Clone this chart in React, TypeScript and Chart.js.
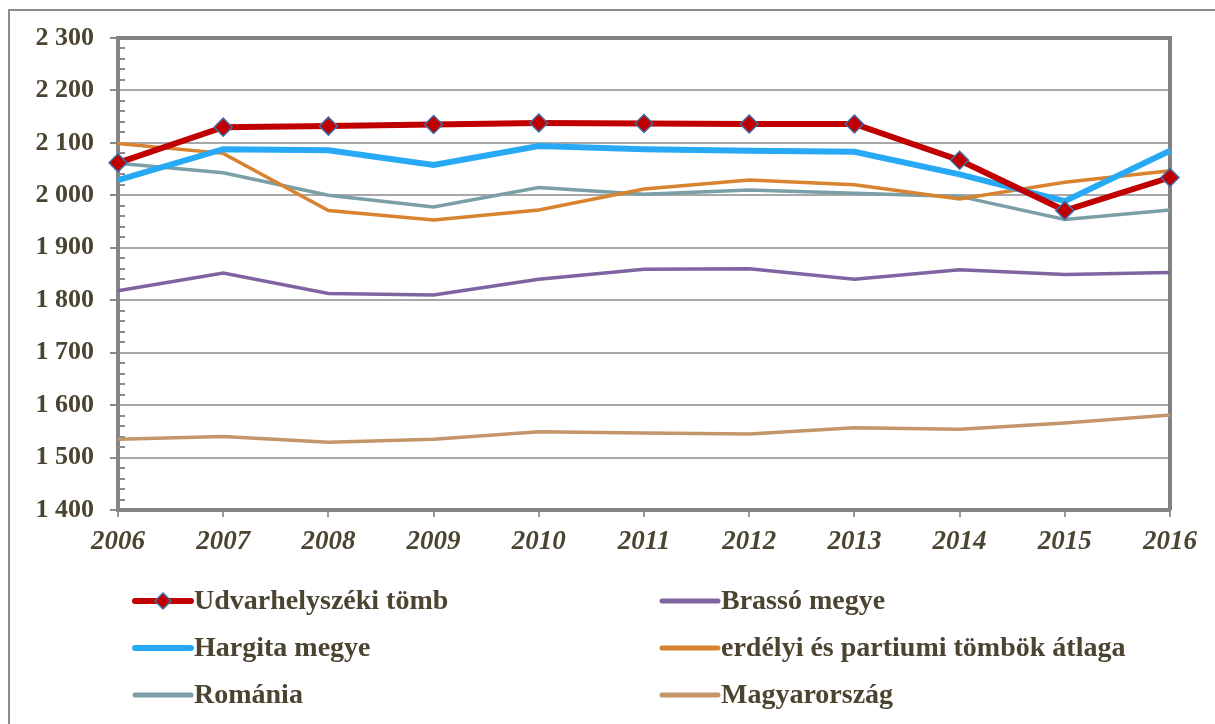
import React, { useEffect, useRef } from "react";
import { Chart, registerables } from "chart.js";

Chart.register(...registerables);

const years = ["2006", "2007", "2008", "2009", "2010", "2011", "2012", "2013", "2014", "2015", "2016"];
const udvarhely = [2062, 2130, 2132, 2135, 2138, 2137, 2136, 2136, 2067, 1971, 2034];
const hargita = [2029, 2088, 2086, 2058, 2094, 2088, 2085, 2083, 2040, 1989, 2085];
const erdelyi = [2099, 2080, 1971, 1953, 1972, 2012, 2029, 2020, 1993, 2025, 2047];
const romania = [2061, 2043, 2000, 1978, 2015, 2002, 2010, 2004, 1998, 1954, 1972];
const brasso = [1818, 1852, 1813, 1810, 1840, 1859, 1860, 1840, 1858, 1849, 1853];
const magyar = [1535, 1540, 1529, 1535, 1549, 1547, 1545, 1557, 1554, 1566, 1581];

const seriesNames = [
  "Udvarhelyszéki tömb",
  "Hargita megye",
  "erdélyi és partiumi tömbök átlaga",
  "Románia",
  "Brassó megye",
  "Magyarország",
];
const seriesColors = ["#C00000", "#27A9F5", "#D8832F", "#7A9FA6", "#8064A2", "#C4946A"];
const seriesWidths = [6, 6, 3.5, 3.5, 3.5, 3.5];
// legend order (row-wise, two columns) as dataset indices
const legendOrder = [0, 4, 1, 2, 3, 5];

const yMin = 1400;
const yMax = 2300;
const yStep = 100;
const yMinorStep = 20;

const TEXT = "#4A4431";
const SERIF = "'Liberation Serif', 'Times New Roman', serif";

const decorPlugin = {
  id: "decor",
  beforeDraw(chart: any) {
    const ctx = chart.ctx;
    ctx.save();
    ctx.fillStyle = "#ffffff";
    ctx.fillRect(0, 0, chart.width, chart.height);
    ctx.strokeStyle = "#8c8c8c";
    ctx.lineWidth = 2;
    ctx.beginPath();
    ctx.moveTo(9, chart.height + 5);
    ctx.lineTo(9, 10);
    ctx.lineTo(chart.width + 5, 10);
    ctx.stroke();
    ctx.restore();
  },
  beforeDatasetsDraw(chart: any) {
    const ctx = chart.ctx;
    const a = chart.chartArea;
    const y = chart.scales.y;
    ctx.save();
    ctx.strokeStyle = "#8a8a8a";
    ctx.lineWidth = 2;
    for (let v = yMin; v <= yMax; v += yMinorStep) {
      if (v % yStep === 0) continue;
      const py = Math.round(y.getPixelForValue(v));
      ctx.beginPath();
      ctx.moveTo(a.left, py);
      ctx.lineTo(a.left + 7, py);
      ctx.stroke();
    }
    ctx.strokeStyle = "#828282";
    ctx.lineWidth = 4;
    ctx.beginPath();
    ctx.moveTo(a.left, a.top);
    ctx.lineTo(a.right, a.top);
    ctx.lineTo(a.right, a.bottom);
    ctx.stroke();
    ctx.restore();
  },
  afterDraw(chart: any) {
    const ctx = chart.ctx;
    const colX = [135, 662];
    const rowY = [601, 648, 695];
    ctx.save();
    legendOrder.forEach((di, i) => {
      const cx = colX[i % 2];
      const cy = rowY[Math.floor(i / 2)];
      const ds = chart.data.datasets[di];
      ctx.strokeStyle = ds.borderColor;
      ctx.lineWidth = di <= 1 ? 6 : 5;
      ctx.lineCap = "round";
      ctx.beginPath();
      ctx.moveTo(cx, cy);
      ctx.lineTo(cx + 56, cy);
      ctx.stroke();
      if (di === 0) {
        const mx = cx + 28;
        ctx.beginPath();
        ctx.moveTo(mx, cy - 8);
        ctx.lineTo(mx + 8, cy);
        ctx.lineTo(mx, cy + 8);
        ctx.lineTo(mx - 8, cy);
        ctx.closePath();
        ctx.fillStyle = "#C00000";
        ctx.fill();
        ctx.lineWidth = 1.5;
        ctx.strokeStyle = "#3E6EA8";
        ctx.stroke();
      }
      ctx.fillStyle = TEXT;
      ctx.font = `bold 28px ${SERIF}`;
      ctx.textBaseline = "middle";
      ctx.textAlign = "left";
      ctx.fillText(ds.label, cx + 59, cy + 1);
    });
    ctx.restore();
  },
};

export default function App() {
  const ref = useRef<HTMLCanvasElement | null>(null);

  useEffect(() => {
    if (!ref.current) return;
    const values = [udvarhely, hargita, erdelyi, romania, brasso, magyar];
    const datasets = values.map((data, i) => ({
      label: seriesNames[i],
      data,
      borderColor: seriesColors[i],
      backgroundColor: seriesColors[i],
      borderWidth: seriesWidths[i],
      tension: 0,
      fill: false,
      pointStyle: "rectRot" as const,
      pointRadius: i === 0 ? 9 : 0,
      pointHoverRadius: i === 0 ? 9 : 0,
      pointBackgroundColor: "#C00000",
      pointBorderColor: "#3E6EA8",
      pointBorderWidth: 1.5,
    }));

    const chart = new Chart(ref.current, {
      type: "line",
      data: { labels: years, datasets },
      plugins: [decorPlugin],
      options: {
        responsive: false,
        animation: false,
        devicePixelRatio: 1,
        layout: { padding: { left: 0, right: 45, top: 38, bottom: 164 } },
        plugins: {
          legend: { display: false },
          tooltip: { enabled: false },
          title: { display: false },
        },
        scales: {
          x: {
            type: "category",
            offset: false,
            afterFit: (s: any) => {
              s.height = 50;
            },
            grid: {
              drawOnChartArea: false,
              drawTicks: true,
              tickLength: 7,
              tickColor: "#9a9a9a",
              lineWidth: 2,
            },
            border: { display: true, color: "#858585", width: 4 },
            ticks: {
              color: TEXT,
              padding: 9,
              maxRotation: 0,
              autoSkip: false,
              font: { family: SERIF, size: 27, weight: "bold", style: "italic" },
            },
          },
          y: {
            min: yMin,
            max: yMax,
            afterFit: (s: any) => {
              s.width = 118;
            },
            grid: {
              color: "#A8A8A8",
              lineWidth: 2,
              drawTicks: true,
              tickLength: 8,
              tickColor: "#8a8a8a",
            },
            border: { display: true, color: "#858585", width: 4 },
            ticks: {
              stepSize: yStep,
              color: TEXT,
              padding: 16,
              font: { family: SERIF, size: 26, weight: "bold" },
              callback: (v: any) => {
                const s = String(Number(v));
                return s.length > 3 ? s.slice(0, s.length - 3) + " " + s.slice(-3) : s;
              },
            },
          },
        },
      },
    });
    return () => chart.destroy();
  }, []);

  return (
    <div style={{ position: "fixed", left: 0, top: 0, width: 1215, height: 724, background: "#fff" }}>
      <canvas ref={ref} width={1215} height={724} style={{ display: "block", width: 1215, height: 724 }} />
    </div>
  );
}
